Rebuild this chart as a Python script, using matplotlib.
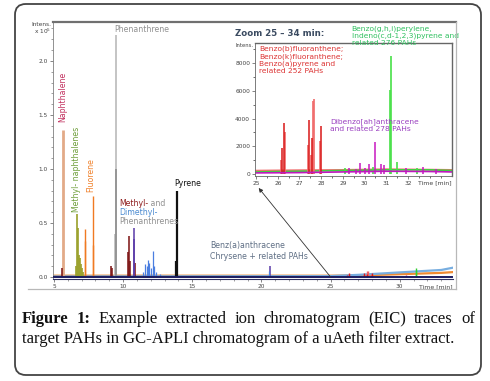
import matplotlib
matplotlib.use("Agg")
import matplotlib.pyplot as plt
from matplotlib.patches import FancyBboxPatch
from matplotlib.lines import Line2D

W, H = 490, 381

# ---- main chromatogram (time in min, intensity x 10^5) ----
naph_t = [5.62]
naph_h = [1.36]
mnaph_t = [6.62, 6.70, 6.74, 6.80, 6.86, 6.92, 7.00, 7.08]
mnaph_h = [0.10, 0.58, 0.45, 0.20, 0.18, 0.12, 0.08, 0.05]
fluor_t = [7.22, 7.27, 7.80, 7.85]
fluor_h = [0.33, 0.44, 0.30, 0.75]
phen_t = [9.40, 9.46]
phen_h = [0.40, 2.24]
phen_low_t = [9.46]
phen_low_h = [1.00]
mphen_t = [5.60, 9.15, 9.22, 10.32, 10.40, 10.48, 10.86]
mphen_h = [0.08, 0.10, 0.08, 0.23, 0.38, 0.15, 0.13]
mphen2_t = [10.76, 10.82, 20.62]
mphen2_h = [0.35, 0.45, 0.10]
dmphen_t = [11.45, 11.60, 11.70, 11.80, 11.90, 12.00, 12.15, 12.22, 12.40, 12.70, 20.55]
dmphen_h = [0.05, 0.12, 0.10, 0.16, 0.13, 0.08, 0.24, 0.10, 0.05, 0.03, 0.06]
pyr_t = [13.83, 13.86]
pyr_h = [0.15, 0.80]

# baselines of the main traces
base_t = [5, 25, 27, 29, 31, 33, 33.8]
orange_base = [0.012, 0.012, 0.015, 0.022, 0.030, 0.038, 0.045]
blue_base = [0.005, 0.008, 0.020, 0.035, 0.050, 0.065, 0.085]
navy_base = [0.0, 0.0, 0.0, 0.0, 0.0, 0.0, 0.0]

# ---- zoom 25 - 34 min (raw intensity) ----
b252_t = [26.20, 26.30, 27.45, 27.60, 28.00]
b252_h = [1900, 3700, 3900, 2600, 3500]
b252l_t = [26.15, 26.35, 27.40, 27.55, 27.63, 27.67, 27.95]
b252l_h = [1000, 3000, 2100, 1400, 5300, 5450, 2400]
d278_t = [29.30, 29.60, 29.80, 30.00, 30.20, 30.48, 30.75, 30.90, 31.90, 32.70, 33.30]
d278_h = [400, 350, 800, 400, 700, 2300, 700, 650, 400, 500, 350]
b276_t = [29.10, 30.40, 31.15, 31.20, 31.50, 32.40]
b276_h = [450, 500, 6100, 8500, 900, 450]

zbase_t = [25, 27, 29, 31, 33, 34]
green_zbase = [150, 200, 250, 300, 300, 250]
pink_zbase = [250, 280, 300, 350, 320, 300]
mag_zbase = [80, 100, 150, 200, 180, 150]


def fx(px):
    return px / W


def fy(py):
    return 1 - py / H


fig = plt.figure(figsize=(W / 100, H / 100), dpi=100)

box = FancyBboxPatch((fx(15), fy(375)), fx(481) - fx(15), fy(4) - fy(375),
                     boxstyle="round,pad=0,rounding_size=0.022",
                     mutation_aspect=W / H, transform=fig.transFigure,
                     fill=False, edgecolor="#444444", linewidth=1.3)
fig.add_artist(box)

# frame of the chromatogram picture
fig.add_artist(Line2D([fx(53), fx(456)], [fy(21.5), fy(21.5)], color="#707070", lw=1.6))
fig.add_artist(Line2D([fx(456), fx(456)], [fy(21.5), fy(289)], color="#b8b8b8", lw=0.9))
fig.add_artist(Line2D([fx(28), fx(456)], [fy(289), fy(289)], color="#b8b8b8", lw=0.9))

# ---- main axes ----
ax = fig.add_axes([fx(53), fy(279), fx(453) - fx(53), fy(22) - fy(279)])
ax.set_xlim(4.93, 33.85)
ax.set_ylim(-0.0185, 2.36)
for s in ["top", "right"]:
    ax.spines[s].set_visible(False)
ax.spines["left"].set_color("#808080")
ax.spines["left"].set_linewidth(0.6)
ax.spines["bottom"].set_color("#303060")
ax.spines["bottom"].set_linewidth(0.8)

ax.plot(base_t, orange_base, color="#f08a30", lw=1.6, zorder=1)
ax.plot(base_t, blue_base, color="#78aee0", lw=1.6, zorder=1)
ax.vlines(naph_t, 0, naph_h, color="#e2aa88", lw=2.0, zorder=2)
ax.vlines(mnaph_t, 0, mnaph_h, color="#9aa02a", lw=1.2, zorder=2)
ax.vlines(fluor_t, 0, fluor_h, color="#f07a22", lw=1.0, zorder=2)
ax.vlines(phen_t, 0, phen_h, color="#b4b4b4", lw=1.1, zorder=2)
ax.vlines(phen_low_t, 0, phen_low_h, color="#8a8a8a", lw=1.1, zorder=2)
ax.vlines(mphen_t, 0, mphen_h, color="#7a1010", lw=1.1, zorder=3)
ax.vlines(mphen2_t, 0, mphen2_h, color="#5a3aa8", lw=1.1, zorder=3)
ax.vlines(dmphen_t, 0, dmphen_h, color="#4a7ee0", lw=0.9, zorder=3)
ax.vlines(pyr_t, 0, pyr_h, color="#111111", lw=1.6, zorder=3)
ax.vlines(b252l_t, 0, [h / 1e5 for h in b252l_h], color="#f06060", lw=1.0, zorder=3)
ax.vlines(b252_t, 0, [h / 1e5 for h in b252_h], color="#e01818", lw=1.0, zorder=3)
ax.vlines(d278_t, 0, [h / 1e5 for h in d278_h], color="#c020b0", lw=1.0, zorder=3)
ax.vlines(b276_t, 0, [h / 1e5 for h in b276_h], color="#30d030", lw=1.0, zorder=3)
ax.plot(base_t, navy_base, color="#1c1c60", lw=1.4, zorder=4)

ax.set_xticks([5, 10, 15, 20, 25, 30])
ax.set_xticks(range(5, 34), minor=True)
ax.set_yticks([0, 0.5, 1.0, 1.5, 2.0])
ax.set_yticklabels(["0.0", "0.5", "1.0", "1.5", "2.0"])
ax.set_yticks([v / 10 for v in range(0, 24)], minor=True)
ax.tick_params(labelsize=4.2, colors="#555555", labelcolor="#444444",
               length=2.5, width=0.5, pad=1)
ax.tick_params(which="minor", length=1.5, width=0.4, colors="#555555")
ax.text(1.0, -0.022, "Time [min]", transform=ax.transAxes, ha="right", va="top",
        fontsize=4.4, color="#444444")
ax.text(-0.005, 1.0, "Intens.\nx 10$^5$", transform=ax.transAxes, ha="right",
        va="top", fontsize=4.2, color="#444444", linespacing=1.0)

lab = dict(fontsize=5.6)
ax.text(5.6, 1.43, "Naphthalene", rotation=90, ha="center", va="bottom",
        color="#c2305e", **lab)
ax.text(6.62, 0.60, "Methyl- naphthalenes", rotation=90, ha="center", va="bottom",
        color="#6e9e3a", **lab)
ax.text(7.65, 0.79, "Fluorene", rotation=90, ha="center", va="bottom",
        color="#f0812c", **lab)
ax.text(9.35, 2.29, "Phenanthrene", ha="left", va="center", color="#909090", **lab)
t1 = ax.text(9.7, 0.68, "Methyl-", ha="left", va="center", color="#8e1c1c", **lab)
ax.annotate(" and", xy=(1, 0), xycoords=t1, va="bottom", color="#909090", **lab)
ax.text(9.7, 0.595, "Dimethyl-", ha="left", va="center", color="#4a8ad0", **lab)
ax.text(9.7, 0.51, "Phenanthrenes", ha="left", va="center", color="#909090", **lab)
ax.text(13.7, 0.865, "Pyrene", ha="left", va="center", color="#111111", **lab)
ax.text(16.3, 0.24, "Benz(a)anthracene\nChrysene + related PAHs", ha="left",
        va="center", color="#5e6e84", linespacing=1.2, **lab)

# ---- zoom inset ----
ins = fig.add_axes([fx(255), fy(176), fx(452) - fx(255), fy(43) - fy(176)])
ins.set_facecolor("white")
ins.set_xlim(24.95, 34.03)
ins.set_ylim(-144, 9458)
ins.plot(zbase_t, pink_zbase, color="#f07070", lw=1.2)
ins.plot(zbase_t, green_zbase, color="#40d040", lw=1.2)
ins.vlines(b252l_t, 0, b252l_h, color="#f06a6a", lw=1.2)
ins.vlines(b252_t, 0, b252_h, color="#d81818", lw=1.1)
ins.vlines(b276_t, 0, b276_h, color="#48e048", lw=1.2)
ins.vlines(d278_t, 0, d278_h, color="#c818c0", lw=1.1)
ins.plot(zbase_t, mag_zbase, color="#c018c0", lw=1.2)
for s in ["top", "right"]:
    ins.spines[s].set_color("#666666")
    ins.spines[s].set_linewidth(1.0)
for s in ["left", "bottom"]:
    ins.spines[s].set_color("#666666")
    ins.spines[s].set_linewidth(0.6)
ins.set_xticks(range(25, 33))
ins.set_xticks([v / 2 for v in range(50, 68)], minor=True)
ins.set_yticks([0, 2000, 4000, 6000, 8000])
ins.set_yticks(range(0, 9001, 1000), minor=True)
ins.tick_params(labelsize=4.2, colors="#555555", labelcolor="#444444",
                length=2.5, width=0.5, pad=1)
ins.tick_params(which="minor", length=1.5, width=0.4)
ins.text(1.0, -0.03, "Time [min]", transform=ins.transAxes, ha="right", va="top",
         fontsize=4.4, color="#444444")
ins.text(-0.01, 1.0, "Intens.", transform=ins.transAxes, ha="right", va="top",
         fontsize=3.8, color="#444444")
ins.text(-0.10, 1.075, "Zoom 25 \u2013 34 min:", transform=ins.transAxes, ha="left",
         va="center", fontsize=6.2, fontweight="bold", color="#3a4a60")
ins.text(25.15, 9250, "Benzo(b)fluoranthene;\nBenzo(k)fluoranthene;\n"
         "Benzo(a)pyrene and\nrelated 252 PAHs", ha="left", va="top",
         color="#dc3434", fontsize=5.4, linespacing=1.2)
ins.text(28.4, 4050, "Dibenzo[ah]anthracene\nand related 278 PAHs", ha="left",
         va="top", color="#9a40c0", fontsize=5.4, linespacing=1.2)
ins.text(29.4, 1.135, "Benzo(g,h,i)perylene,\nIndeno(c,d-1,2,3)pyrene and\n"
         "related 276 PAHs", transform=ins.get_xaxis_transform(), ha="left",
         va="top", color="#30c060", fontsize=5.4, linespacing=1.2)

ins.annotate("", xy=(25.12, -0.09), xycoords=("data", "axes fraction"),
             xytext=(25.0, 0.0), textcoords=ax.transData,
             arrowprops=dict(arrowstyle="-|>", color="#333333", lw=0.6,
                             mutation_scale=6, shrinkA=0, shrinkB=0))

# ---- caption ----
fig.canvas.draw()
rend = fig.canvas.get_renderer()
serif = ["Liberation Serif", "DejaVu Serif"]
line2 = "target PAHs in GC-APLI chromatogram of a uAeth filter extract."
probe = fig.text(0, 0, line2, fontsize=12, family=serif)
w2 = probe.get_window_extent(rend).width
probe.remove()
fs = 12 * 431 / w2
fig.text(fx(22), fy(343), line2, fontsize=fs, family=serif, ha="left",
         va="baseline", color="#111111")

words = ["Figure", "1:", "Example", "extracted", "ion", "chromatogram",
         "(EIC)", "traces", "of"]
arts = []
for i, wd in enumerate(words):
    a = fig.text(0, fy(323), wd, fontsize=fs, family=serif, va="baseline",
                 fontweight="bold" if i < 2 else "normal", color="#111111")
    arts.append(a)
widths = [a.get_window_extent(rend).width for a in arts]
gap = (475 - 22 - sum(widths)) / (len(words) - 1)
xpos = 22
for a, wd in zip(arts, widths):
    a.set_x(fx(xpos))
    xpos += wd + gap

fig.savefig("out.png", dpi=100)
